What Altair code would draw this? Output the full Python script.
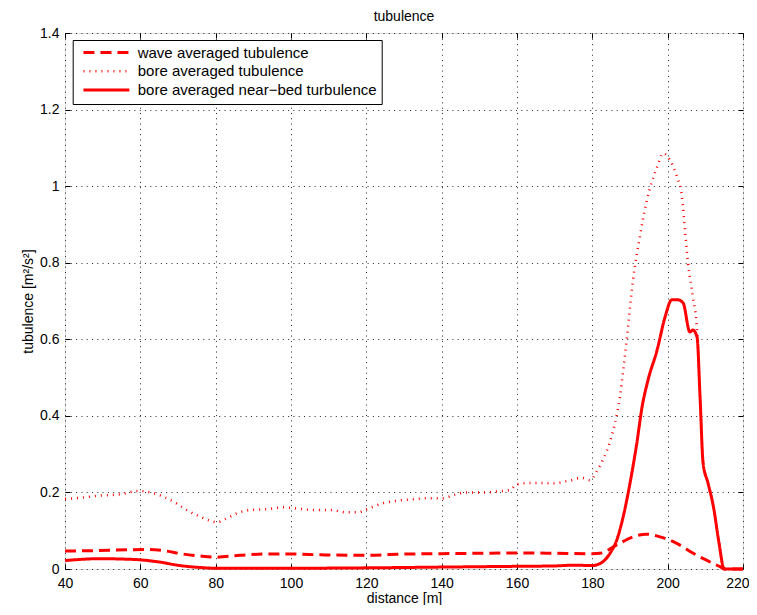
import altair as alt
import pandas as pd

SERIES = ["wave averaged tubulence", "bore averaged tubulence", "bore averaged near\u2212bed turbulence"]

wave_x = [40, 48, 56.4, 61.7, 66.1, 71.4, 75.8, 80.3, 86.5, 93.5, 100, 108, 115, 120, 130, 140, 150, 160, 170, 180,
          182, 186.5, 190.8, 194.4, 198, 202.4, 206.8, 210.3, 213.9, 215.2, 220]
wave_y = [0.047, 0.048, 0.05, 0.051, 0.048, 0.039, 0.034, 0.031, 0.036, 0.039, 0.039, 0.037, 0.036, 0.036, 0.039,
          0.04, 0.041, 0.042, 0.041, 0.04, 0.041, 0.063, 0.084, 0.091, 0.084, 0.067, 0.041, 0.023, 0.006, 0.0, 0.0]

bore_x = [40, 44, 48.4, 55.4, 59, 62.6, 66.1, 69.3, 72.3, 75.8, 78.9, 80.3, 82.9, 85.6, 89.1, 93.5, 98, 101.5, 105.9,
          110.3, 114.8, 117.9, 119.6, 121.4, 124.5, 128, 132.5, 136.9, 140.4, 143.1, 146.6, 151.9, 155, 158.2, 159.9,
          164.3, 169.6, 174, 177.2, 179.4, 181.1, 182.8, 184.7, 187.3, 189.2, 190.8, 192.6, 194.5, 197.2, 198.8, 200.6,
          202.5, 203.8, 204.6, 205.4, 206.7, 207.8, 208.6, 209.4, 210.7, 212.2, 213.6, 215, 220]
bore_y = [0.183, 0.186, 0.191, 0.196, 0.204, 0.2, 0.189, 0.173, 0.154, 0.137, 0.125, 0.122, 0.132, 0.145, 0.154, 0.156,
          0.161, 0.158, 0.154, 0.154, 0.148, 0.148, 0.154, 0.161, 0.172, 0.178, 0.182, 0.185, 0.185, 0.193, 0.2, 0.2,
          0.203, 0.206, 0.221, 0.225, 0.224, 0.231, 0.238, 0.232, 0.254, 0.285, 0.333, 0.449, 0.606, 0.755, 0.867,
          0.964, 1.05, 1.086, 1.068, 1.024, 0.972, 0.885, 0.8, 0.71, 0.624, 0.449, 0.277, 0.225, 0.16, 0.07, 0.0, 0.0]

bed_x = [40, 44, 49.3, 55, 59.9, 65.2, 70.5, 75.8, 80.3, 90, 100, 120, 140, 160, 170, 175, 180, 181.5, 182.8, 184.7,
         186.5, 188.2, 190, 191.8, 193.2, 194.8, 197.2, 199.3, 201.1, 202.7, 204.1, 205.9, 206.7, 207.8, 208.6, 209.4,
         210.7, 212.2, 213.6, 215, 220]
bed_y = [0.022, 0.025, 0.027, 0.026, 0.024, 0.018, 0.009, 0.004, 0.002, 0.002, 0.002, 0.003, 0.005, 0.007, 0.008,
         0.01, 0.009, 0.012, 0.019, 0.041, 0.076, 0.137, 0.224, 0.328, 0.423, 0.494, 0.572, 0.658, 0.703, 0.703,
         0.695, 0.619, 0.624, 0.606, 0.449, 0.277, 0.225, 0.16, 0.07, 0.0, 0.0]

x_ticks = [40, 60, 80, 100, 120, 140, 160, 180, 200, 220]
y_ticks = [0, 0.2, 0.4, 0.6, 0.8, 1, 1.2, 1.4]

frames = []
for name, xs, ys in [(SERIES[0], wave_x, wave_y), (SERIES[1], bore_x, bore_y), (SERIES[2], bed_x, bed_y)]:
    frames.append(pd.DataFrame({"distance": xs, "value": ys, "series": name}))
df = pd.concat(frames, ignore_index=True)

FONT = "Liberation Sans"
RED = "#ff0000"
THIN = SERIES[1]
LAST_X = x_ticks[-1]

xscale = alt.Scale(domain=[40, 220], nice=False, zero=False)
yscale = alt.Scale(domain=[0, 1.4], nice=False, zero=True)

legend = alt.Legend(
    title=None, orient="none", legendX=7.7, legendY=7,
    symbolType="M-1,0H7", symbolSize=132, symbolStrokeColor=RED, symbolOffset=4,
    symbolStrokeWidth=alt.ExprRef("datum.value === '" + THIN + "' ? 2.5 : 3"),
    labelFont=FONT, labelFontSize=15, labelColor="#000", labelOffset=41, labelLimit=400,
    strokeColor="#000", fillColor="#fff", padding=5, rowPadding=2.8,
)

lines = alt.Chart(df).mark_line(color=RED, interpolate="monotone", clip=False).encode(
    x=alt.X("distance:Q", scale=xscale, axis=alt.Axis(
        orient="bottom", values=x_ticks, grid=True, gridColor="#000", gridDash=[1, 4.3], gridWidth=1,
        gridOpacity=0.85, domain=False, ticks=True, tickSize=5, tickColor="#000", offset=-5,
        labelFont=FONT, labelFontSize=14, labelColor="#000", labelPadding=7, labelFlush=False,
        labelAlign=alt.ExprRef("datum.value === %d ? 'right' : 'center'" % LAST_X),
        labelOffset=alt.ExprRef("datum.value === %d ? 6 : 0" % LAST_X),
        title="distance [m]", titleFont=FONT, titleFontSize=14, titleFontWeight="normal", titleColor="#000",
        titleY=38, titleBaseline="alphabetic")),
    y=alt.Y("value:Q", scale=yscale, axis=alt.Axis(
        orient="left", values=y_ticks, format="~g", grid=True, gridColor="#000", gridDash=[1, 4.3], gridWidth=1,
        gridOpacity=0.85, domain=False, ticks=True, tickSize=5, tickColor="#000", offset=-5,
        labelFont=FONT, labelFontSize=14, labelColor="#000", labelPadding=6, labelFlush=False,
        title="tubulence [m\u00b2/s\u00b2]", titleFont=FONT, titleFontSize=14, titleFontWeight="normal",
        titleColor="#000", titleX=-42, titleY=268, titleAngle=270, titleBaseline="middle")),
    strokeDash=alt.StrokeDash("series:N", scale=alt.Scale(domain=SERIES, range=[[11, 6], [1, 5], [1, 0]]),
                              legend=legend),
    strokeWidth=alt.condition(alt.datum.series == THIN, alt.value(2.5), alt.value(3)),
)

mirror = alt.Chart(df).mark_line(opacity=0).encode(
    x=alt.X("distance:Q", scale=xscale, axis=alt.Axis(
        orient="top", values=x_ticks, grid=False, domain=False, labels=False, ticks=True, tickSize=5,
        tickColor="#000", offset=-5, title=None)),
    y=alt.Y("value:Q", scale=yscale, axis=alt.Axis(
        orient="right", values=y_ticks, grid=False, domain=False, labels=False, ticks=True, tickSize=5,
        tickColor="#000", offset=-5, title=None)),
    detail="series:N",
)

chart = alt.layer(lines, mirror).resolve_axis(x="independent", y="independent").properties(
    width=678, height=536,
    title=alt.TitleParams("tubulence", font=FONT, fontSize=14, fontWeight="normal", color="#000",
                          offset=2, frame="group", anchor="middle"),
    autosize=alt.AutoSizeParams(type="none"),
    padding={"left": 57, "top": 25, "right": 6, "bottom": 36},
).configure_view(stroke="#000", strokeWidth=1).configure(background="#fff")

chart.save("out.html", embed_options={"renderer": "svg", "actions": False})
